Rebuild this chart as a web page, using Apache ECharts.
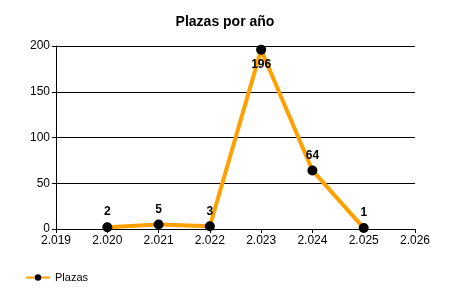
<!DOCTYPE html>
<html><head><meta charset="utf-8">
<script src="https://cdn.jsdelivr.net/npm/echarts@6/dist/echarts.min.js"></script>
<style>html,body{margin:0;padding:0;background:#fff}#c{width:450px;height:300px}</style>
</head><body><div id="c"></div>
<script>
var years = [2020, 2021, 2022, 2023, 2024, 2025];
var plazas = [2, 5, 3, 196, 64, 1];
var labelBelow = [false, false, false, true, false, false];
var yTicks = [0, 50, 100, 150, 200];

var chart = echarts.init(document.getElementById('c'));
var font = 'Liberation Sans, Arial, sans-serif';
chart.setOption({
  animation: false,
  title: {text: 'Plazas por año', left: 'center', top: 10,
    textStyle: {fontFamily: font, fontSize: 14, fontWeight: 'bold', color: '#000'}},
  legend: {left: 20, top: 267, itemWidth: 24, itemHeight: 8, itemGap: 5,
    textStyle: {fontFamily: font, fontSize: 11, color: '#000'},
    data: ['Plazas']},
  grid: {left: 56, right: 35, top: 46, bottom: 71, containLabel: false},
  xAxis: {type: 'value', min: 2019, max: 2026, interval: 1,
    axisLine: {lineStyle: {color: '#000'}},
    axisTick: {show: true, length: 4, lineStyle: {color: '#000'}},
    axisLabel: {fontFamily: font, fontSize: 12, color: '#000', margin: 6,
      formatter: function(v){ var s = String(v); return s[0] + '.' + s.slice(1); }},
    splitLine: {show: false}},
  yAxis: {type: 'value', min: 0, max: 200, interval: 50,
    axisLine: {show: true, lineStyle: {color: '#000'}},
    axisTick: {show: true, length: 4, lineStyle: {color: '#000'}},
    axisLabel: {fontFamily: font, fontSize: 12, color: '#000', margin: 6},
    splitLine: {show: true, lineStyle: {color: '#000', width: 1}}},
  series: [{
    name: 'Plazas', type: 'line',
    data: years.map(function(y, i){
      return {value: [y, plazas[i]],
        label: {position: labelBelow[i] ? 'bottom' : 'top'}};
    }),
    symbol: 'circle', symbolSize: 10,
    itemStyle: {color: '#000'},
    lineStyle: {color: '#FFA000', width: 4},
    label: {show: true, fontFamily: font, fontSize: 12, fontWeight: 'bold', color: '#000', distance: 4}
  }]
});
</script></body></html>
